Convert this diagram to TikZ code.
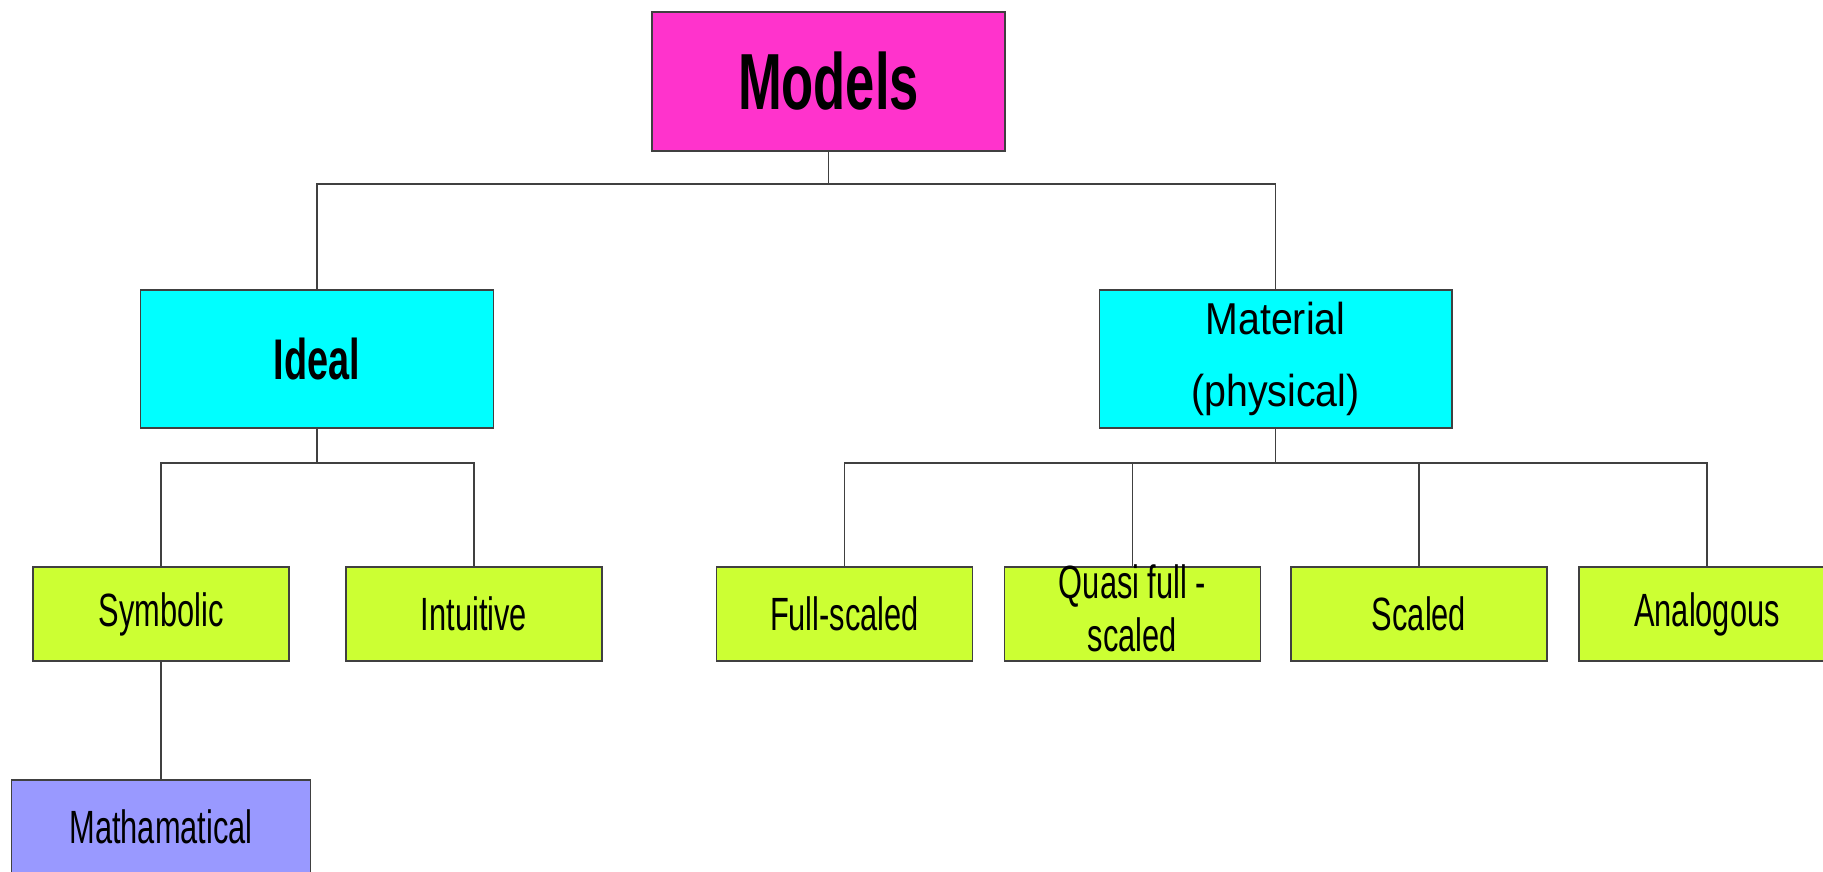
\documentclass[tikz,border=0pt]{standalone}
\usepackage{fontspec}
\setmainfont{Liberation Sans}[FakeStretch=0.66]
\newfontfamily\widesans{Liberation Sans}[FakeStretch=0.88]

\definecolor{modelpink}{RGB}{255,51,204}
\definecolor{groupcyan}{RGB}{0,255,255}
\definecolor{kindgreen}{RGB}{204,255,51}
\definecolor{mathblue}{RGB}{153,153,255}
\definecolor{edgegray}{RGB}{64,64,64}

\tikzset{every picture/.style={line width=0.75pt}}
\tikzset{
  chartbox/.style={draw=edgegray, line width=1pt, rectangle, inner sep=0pt, align=center, text=black},
  topbox/.style={chartbox, fill=modelpink, minimum width=264.75pt, minimum height=104.25pt, font=\fontsize{59.7}{70}\selectfont\bfseries},
  groupbox/.style={chartbox, fill=groupcyan, minimum width=264.5pt, minimum height=103.5pt},
  kindbox/.style={chartbox, fill=kindgreen, minimum width=192pt, minimum height=70.5pt, font=\fontsize{35}{40}\selectfont},
  subbox/.style={chartbox, fill=mathblue, minimum width=224.25pt, minimum height=70.5pt, font=\fontsize{35}{40}\selectfont},
  link/.style={draw=edgegray, line width=1pt}
}

\begin{document}
\begin{tikzpicture}[x=0.75pt,y=0.75pt,yscale=-1,xscale=1]

%set diagram size
\useasboundingbox (0,0) rectangle (1823,871);

%Top box
\node[topbox] (models) at (828.5,81.5) {Models};

%Second row
\node[groupbox, font=\fontsize{43}{50}\selectfont\bfseries] (ideal) at (317,359) {Ideal};
\node[groupbox, font=\widesans\fontsize{33.5}{54}\selectfont] (material) at (1275.5,359) {Material\\(physical)};

%Third row
\node[kindbox] (symbolic) at (161,614) {Symbolic};
\node[kindbox] (intuitive) at (474,614) {Intuitive};
\node[kindbox] (fullscaled) at (844.5,614) {Full-scaled};
\node[kindbox] (quasi) at (1132.5,614) {};
\node[kindbox, draw=none, fill=none] (quasitext) at (1132.5,608.5) {Quasi full -\\scaled};
\node[kindbox] (scaled) at (1419,614) {Scaled};
\node[kindbox] (analogous) at (1707,614) {Analogous};

%Bottom box
\node[subbox] (mathamatical) at (161,827) {Mathamatical};

%Join points
\coordinate (topjoin) at (828.5,184);
\coordinate (idealjoin) at (317,463);
\coordinate (matjoin) at (1275.5,463);

%Straight Lines
\draw[link] (models) -- (topjoin);
\draw[link] (ideal) |- (topjoin) -| (material);

\draw[link] (ideal) -- (idealjoin);
\draw[link] (symbolic) |- (idealjoin) -| (intuitive);
\draw[link] (symbolic) -- (mathamatical);

\draw[link] (material) -- (matjoin);
\draw[link] (fullscaled) |- (matjoin) -| (analogous);
\draw[link] (quasi) -- (quasi |- matjoin);
\draw[link] (scaled) -- (scaled |- matjoin);

\end{tikzpicture}
\end{document}
